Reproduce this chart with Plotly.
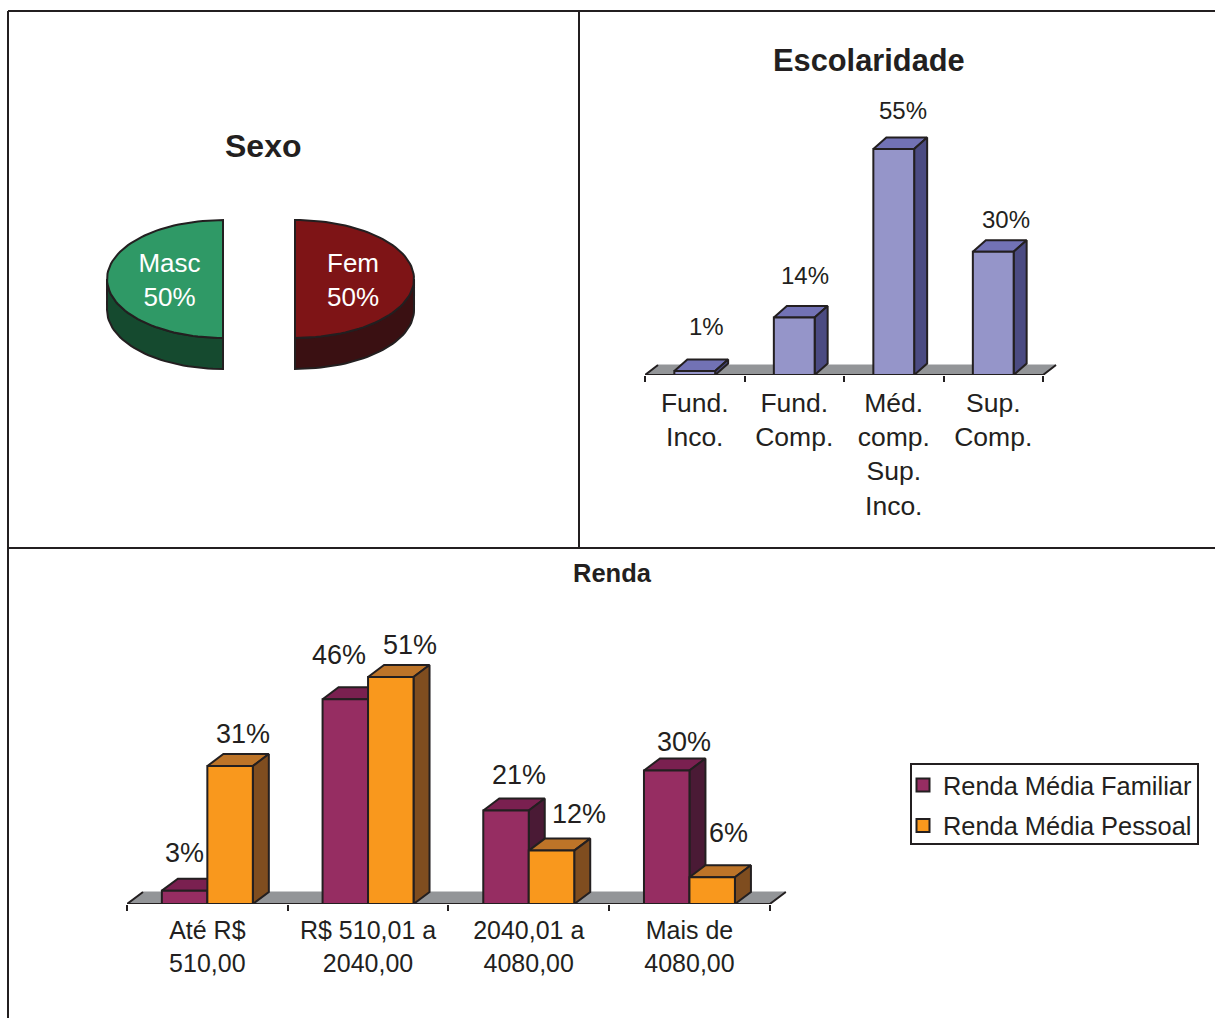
import plotly.graph_objects as go
import math

# ---- data ----
sexo_labels = ["Masc", "Fem"]
sexo_values = [50, 50]

esc_categories = ["Fund.<br>Inco.", "Fund.<br>Comp.", "Méd.<br>comp.<br>Sup.<br>Inco.", "Sup.<br>Comp."]
esc_values = [1, 14, 55, 30]

renda_categories = ["Até R$<br>510,00", "R$ 510,01 a<br>2040,00", "2040,01 a<br>4080,00", "Mais de<br>4080,00"]
renda_familiar = [3, 46, 21, 30]
renda_pessoal = [31, 51, 12, 6]

# ---- style ----
W, H = 1215, 1018
FONT = "Liberation Sans, Arial, sans-serif"
INK = "#231f20"
FLOOR = "#939598"
ESC_COL = ("#9595c9", "#7272b5", "#4b4b82")
FAM_COL = ("#962d62", "#7a2050", "#4a1a35")
PES_COL = ("#f9981d", "#bd7428", "#7f4d1f")
MASC_COL = ("#2f9966", "#154a2f")
FEM_COL = ("#7e1416", "#3a1012")

fig = go.Figure()
layout = {}


def xdom(a, b):
    return [a / W, b / W]


def ydom(top, bottom):
    return [1 - bottom / H, 1 - top / H]


def poly(xs, ys, fill, ax, line=INK, lw=2):
    fig.add_trace(go.Scatter(
        x=xs, y=ys, mode="lines", fill="toself", fillcolor=fill,
        line=dict(color=line, width=lw), xaxis=ax[0], yaxis=ax[1],
        showlegend=False, hoverinfo="skip", cliponaxis=False))


def axes(n, x_px, y_px, xr, yr, extra_x=None, extra_y=None):
    xk = "xaxis" if n == 1 else f"xaxis{n}"
    yk = "yaxis" if n == 1 else f"yaxis{n}"
    xa = dict(domain=xdom(*x_px), range=xr, showgrid=False, zeroline=False,
              showline=False, showticklabels=False, ticks="", fixedrange=True,
              anchor="y" if n == 1 else f"y{n}")
    ya = dict(domain=ydom(*y_px), range=yr, showgrid=False, zeroline=False,
              showline=False, showticklabels=False, ticks="", fixedrange=True,
              anchor="x" if n == 1 else f"x{n}")
    xa.update(extra_x or {})
    ya.update(extra_y or {})
    layout[xk] = xa
    layout[yk] = ya


def bar_chart(base, over, categories, series, x0, x1, cat_px, base_py, top_py, pct_px,
              floor_d, bar_d, tick_size, standoff):
    """series: list of (name, values, colours, offset, width)."""
    n = len(categories)
    xr = [-0.5, -0.5 + (x1 - x0) / cat_px]
    yr = [0, (base_py - top_py) / pct_px]
    ticks = [i - 0.5 for i in range(n + 1)]
    axes(base, (x0, x1), (top_py, base_py), xr, yr,
         dict(ticks="outside", tickvals=ticks, ticklen=6, tickwidth=2, tickcolor=INK))
    axes(over, (x0, x1), (top_py, base_py), xr, yr,
         dict(overlaying=f"x{base}", tickvals=list(range(n)), ticktext=categories,
              showticklabels=True, ticks="", ticklabelstandoff=standoff,
              tickfont=dict(family=FONT, size=tick_size, color=INK)),
         dict(overlaying=f"y{base}"))
    ab = (f"x{base}", f"y{base}")
    ao = (f"x{over}", f"y{over}")
    fdx, fdy = floor_d[0] / cat_px, floor_d[1] / pct_px
    bdx, bdy = bar_d[0] / cat_px, bar_d[1] / pct_px
    # floor
    L, R = ticks[0], ticks[-1]
    poly([L, R, R + fdx, L + fdx, L], [0, 0, fdy, fdy, 0], FLOOR, ab, line=FLOOR, lw=1)
    fig.add_trace(go.Scatter(x=[L + fdx, L, R, R + fdx], y=[fdy, 0, 0, fdy], mode="lines",
                             line=dict(color=INK, width=2), xaxis=ab[0], yaxis=ab[1],
                             showlegend=False, hoverinfo="skip", cliponaxis=False))
    # depth faces
    for name, vals, cols, off, wid in series:
        for i, v in enumerate(vals):
            a, b = i + off, i + off + wid
            poly([a, b, b + bdx, a + bdx, a], [v, v, v + bdy, v + bdy, v], cols[1], ab)
            poly([b, b + bdx, b + bdx, b, b], [0, bdy, v + bdy, v, 0], cols[2], ab)
    # front faces
    for name, vals, cols, off, wid in series:
        fig.add_trace(go.Bar(
            x=list(range(n)), y=vals, name=name, width=wid, offset=off,
            marker=dict(color=cols[0], line=dict(color=INK, width=2)),
            xaxis=ao[0], yaxis=ao[1], showlegend=False, hoverinfo="skip"))


def value_labels(over, vals, off, wid, dxs, dys, size):
    for i, v in enumerate(vals):
        annotations.append(dict(
            x=i + off + wid / 2, y=v, xref=f"x{over}", yref=f"y{over}", text=f"{v}%",
            showarrow=False, xshift=dxs[i], yshift=dys[i], xanchor="center", yanchor="middle",
            font=dict(family=FONT, size=size, color=INK)))


annotations = []

# ---- Sexo pie ----
PIE_X, PIE_Y, PIE_RX, PIE_RY = 259.0, 279.0, 117.5, 59.0
explode = 36 / PIE_RX
depth = 31 / PIE_RY
axes(1, (90, 430), (200, 385),
     [-(PIE_X - 90) / PIE_RX, (430 - PIE_X) / PIE_RX],
     [(PIE_Y - 385) / PIE_RY, (PIE_Y - 200) / PIE_RY])
total = sum(sexo_values)
STEPS = 72
# Fem runs clockwise from 12 o'clock, Masc continues from 6 o'clock.
slices = [(1, sexo_values[1], 0.0, 1.013, FEM_COL), (-1, sexo_values[0], 180.0, 0.987, MASC_COL)]
for sign, val, start, k, cols in slices:
    sweep = 360.0 * val / total
    angs = [math.radians(start + sweep * j / STEPS) for j in range(STEPS + 1)]
    cx = sign * explode
    ex = [cx + k * math.sin(t) for t in angs]
    ey = [math.cos(t) for t in angs]
    low = [(x, y) for x, y in zip(ex, ey) if y <= 1e-9]
    sx = [p[0] for p in low] + [p[0] for p in reversed(low)]
    sy = [p[1] for p in low] + [p[1] - depth for p in reversed(low)]
    poly(sx + sx[:1], sy + sy[:1], cols[1], ("x", "y"))
    poly([cx] + ex + [cx], [0] + ey + [0], cols[0], ("x", "y"))

fig.add_trace(go.Scatter(
    x=[(169.5 - PIE_X) / PIE_RX, (353 - PIE_X) / PIE_RX], y=[-3.5 / PIE_RY, -3.5 / PIE_RY], mode="text",
    text=[f"{l}<br>{v}%" for l, v in zip(sexo_labels, sexo_values)],
    textposition="middle center", textfont=dict(family=FONT, size=26, color="white"),
    showlegend=False, hoverinfo="skip", cliponaxis=False))

# ---- Escolaridade ----
esc_w = 0.41
bar_chart(2, 3, esc_categories, [("Escolaridade", esc_values, ESC_COL, -esc_w / 2, esc_w)],
          645, 1060, 99.5, 375, 130, 4.11, (13, 10), (13, 11.5), 26.5, 9)
value_labels(3, esc_values, -esc_w / 2, esc_w, [12, 11, 9, 13], [44, 42, 38, 32], 24)

# ---- Renda ----
rw = 0.283
bar_chart(4, 5, renda_categories,
          [("Renda Média Familiar", renda_familiar, FAM_COL, -rw, rw),
           ("Renda Média Pessoal", renda_pessoal, PES_COL, 0.0, rw)],
          127, 790, 160.7, 904, 650, 4.45, (16, 12), (16, 12), 25, 9)
value_labels(5, renda_familiar, -rw, rw, [0, -6, 13, 17], [38, 44.5, 36, 29], 27)
value_labels(5, renda_pessoal, 0.0, rw, [13, 19, 28, 16], [32, 32, 37, 44], 27)

# legend entries
for i, (name, cols) in enumerate([("Renda Média Familiar", FAM_COL), ("Renda Média Pessoal", PES_COL)]):
    fig.add_trace(go.Scatter(
        x=[None], y=[None], mode="markers", name=name, legendgroup=name,
        marker=dict(symbol="square", size=13, color=cols[0], line=dict(color=INK, width=2)),
        xaxis="x5", yaxis="y5", showlegend=True, hoverinfo="skip"))

# ---- titles ----
for txt, x, y, size in [("Sexo", 263, 146, 32), ("Escolaridade", 869, 60.5, 30.8), ("Renda", 612.5, 573, 25.5)]:
    annotations.append(dict(x=x / W, y=1 - y / H, xref="paper", yref="paper", text=f"<b>{txt}</b>",
                            showarrow=False, xanchor="center", yanchor="middle",
                            font=dict(family=FONT, size=size, color=INK)))

# ---- frame ----
frame = [(8, 11, W, 11), (8, 11, 8, H), (579, 11, 579, 548), (8, 548, W, 548)]
shapes = [dict(type="line", xref="paper", yref="paper", x0=a / W, x1=c / W, y0=1 - b / H, y1=1 - d / H,
               line=dict(color=INK, width=2), layer="below") for a, b, c, d in frame]
# legend box
shapes.append(dict(type="rect", xref="paper", yref="paper", x0=911 / W, x1=1198 / W,
                   y0=1 - 844 / H, y1=1 - 764 / H, line=dict(color=INK, width=2),
                   fillcolor="white", layer="below"))

fig.update_layout(
    width=W, height=H, autosize=False, margin=dict(l=0, r=0, t=0, b=0, pad=0),
    paper_bgcolor="white", plot_bgcolor="rgba(0,0,0,0)", barmode="overlay",
    annotations=annotations, shapes=shapes, hovermode=False,
    showlegend=True,
    legend=dict(x=903 / W, y=1 - 762 / H, xanchor="left", yanchor="top",
                bgcolor="rgba(0,0,0,0)", borderwidth=0,
                font=dict(family=FONT, size=25.4, color=INK),
                tracegroupgap=4.5, itemwidth=30, itemclick=False, itemdoubleclick=False),
    **layout)

fig.write_html("out.html", config=dict(displayModeBar=False),
               post_script="document.body.style.margin='0';document.body.style.overflow='hidden';")
